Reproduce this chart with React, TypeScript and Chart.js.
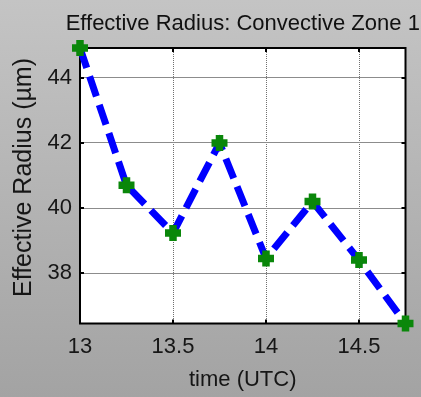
import React, { useEffect, useRef } from "react";
import { Chart, registerables } from "chart.js";

Chart.register(...registerables);

// Effective radius (µm) over time (UTC hours) for convective zone 1
const chartTitle = "Effective Radius: Convective Zone 1";
const yAxisTitle = "Effective Radius (µm)";
const xAxisTitle = "time (UTC)";
const times = [13, 13.25, 13.5, 13.75, 14, 14.25, 14.5, 14.75];
const radius = [44.92, 40.7, 39.23, 42.0, 38.45, 40.2, 38.4, 36.45];
const xTickValues = [13, 13.5, 14, 14.5];
const yTickValues = [38, 40, 42, 44];

const FONT = "'Liberation Sans', Arial, Helvetica, sans-serif";

// White axes box, black frame, inward tick marks, chart title and y-axis title
const framePlugin = {
  id: "frame",
  beforeDraw(chart: any) {
    const { ctx, chartArea: a } = chart;
    ctx.save();
    ctx.fillStyle = "#ffffff";
    ctx.fillRect(a.left, a.top, a.right - a.left, a.bottom - a.top);
    ctx.restore();
  },
  beforeDatasetsDraw(chart: any) {
    const { ctx, chartArea: a, scales } = chart;
    ctx.save();
    ctx.strokeStyle = "#000000";
    ctx.lineWidth = 2;
    ctx.beginPath();
    const len = 4;
    for (const v of xTickValues) {
      const px = scales.x.getPixelForValue(v);
      ctx.moveTo(px, a.top);
      ctx.lineTo(px, a.top + len);
      ctx.moveTo(px, a.bottom);
      ctx.lineTo(px, a.bottom - len);
    }
    for (const v of yTickValues) {
      const py = scales.y.getPixelForValue(v);
      ctx.moveTo(a.left, py);
      ctx.lineTo(a.left + len, py);
      ctx.moveTo(a.right, py);
      ctx.lineTo(a.right - len, py);
    }
    ctx.stroke();
    ctx.strokeRect(a.left, a.top, a.right - a.left, a.bottom - a.top);

    ctx.fillStyle = "#111111";
    ctx.font = `22px ${FONT}`;
    ctx.textAlign = "center";
    ctx.textBaseline = "alphabetic";
    ctx.fillText(chartTitle, (a.left + a.right) / 2, 29.5);

    ctx.fillStyle = "#161616";
    ctx.font = `25px ${FONT}`;
    ctx.translate(30.5, 177.5);
    ctx.rotate(-Math.PI / 2);
    ctx.fillText(yAxisTitle, 0, 0);
    ctx.restore();
  },
};

export default function App() {
  const canvasRef = useRef<HTMLCanvasElement | null>(null);

  useEffect(() => {
    const canvas = canvasRef.current;
    if (!canvas) return;
    const chart = new Chart(canvas, {
      type: "line",
      data: {
        datasets: [
          {
            data: times.map((t, i) => ({ x: t, y: radius[i] })),
            borderColor: "#0000ff",
            borderWidth: 7,
            borderDash: [21, 9],
            borderCapStyle: "butt",
            fill: false,
            tension: 0,
            pointStyle: "cross",
            pointRadius: 8,
            pointBorderWidth: 7.5,
            pointBorderColor: "#0a870a",
            pointBackgroundColor: "#0a870a",
            clip: false,
          } as any,
        ],
      },
      options: {
        responsive: false,
        animation: false,
        devicePixelRatio: 1,
        layout: { padding: { left: 0, right: 15, top: 48, bottom: 0 } },
        plugins: {
          legend: { display: false },
          tooltip: { enabled: false },
          title: { display: false },
        },
        scales: {
          x: {
            type: "linear",
            min: 13,
            max: 14.75,
            afterBuildTicks: (s: any) => {
              s.ticks = xTickValues.map((v) => ({ value: v }));
            },
            afterFit: (s: any) => {
              s.height = 73.5;
            },
            ticks: {
              color: "#161616",
              font: { family: FONT, size: 22 },
              padding: 10,
              maxRotation: 0,
              autoSkip: false,
              callback: (v: any) => String(v),
            },
            grid: { color: "#707070", lineWidth: 1, drawTicks: false },
            border: { display: false, dash: [1, 1] },
            title: {
              display: true,
              text: xAxisTitle,
              color: "#161616",
              font: { family: FONT, size: 22 },
              padding: { top: 0, bottom: 3.5 },
            },
          },
          y: {
            type: "linear",
            min: 36.45,
            max: 44.92,
            afterBuildTicks: (s: any) => {
              s.ticks = yTickValues.map((v) => ({ value: v }));
            },
            afterFit: (s: any) => {
              s.width = 80;
            },
            ticks: {
              color: "#161616",
              font: { family: FONT, size: 22 },
              padding: 8,
              autoSkip: false,
              callback: (v: any) => String(v),
            },
            grid: { color: "#8c8c8c", lineWidth: 1, drawTicks: false },
            border: { display: false },
            title: { display: false },
          },
        },
      },
      plugins: [framePlugin],
    });
    return () => chart.destroy();
  }, []);

  return (
    <div
      style={{
        position: "fixed",
        left: 0,
        top: 0,
        width: 421,
        height: 397,
        background: "linear-gradient(#c4c4c4, #a3a3a3)",
      }}
    >
      <canvas ref={canvasRef} width={421} height={397} style={{ display: "block" }} />
    </div>
  );
}
